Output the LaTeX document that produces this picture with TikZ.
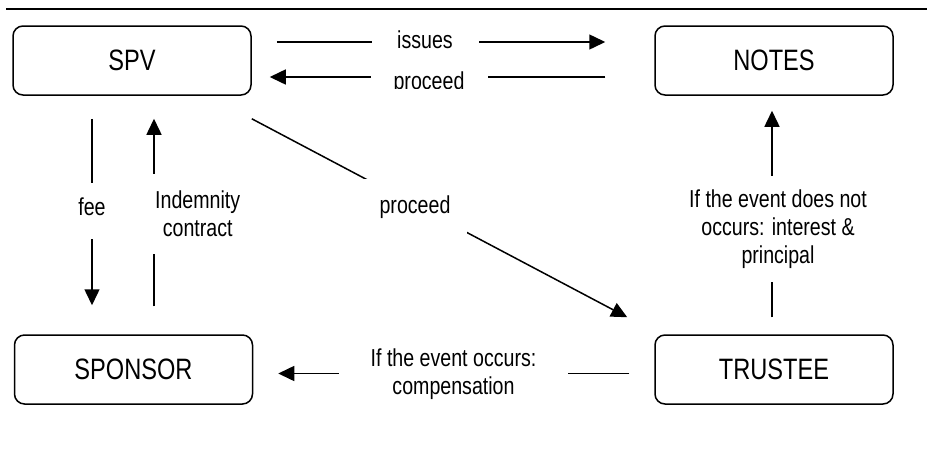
\documentclass[tikz,border=0pt]{standalone}
\usepackage{fontspec}
\setmainfont[FakeStretch=0.8]{Liberation Sans}
\usetikzlibrary{arrows.meta}

\tikzset{
  box/.style={draw, line width=1.5pt, rounded corners=10pt,
    minimum width=238pt, minimum height=69pt,
    font=\fontsize{29.5}{33}\selectfont},
  lbl/.style={fill=white, inner sep=0pt, align=center,
    font=\fontsize{24.5}{28}\selectfont},
  link/.style={line width=1.5pt},
  arr/.style={link, -{Triangle[length=16pt,width=15pt]}},
}

\begin{document}
\begin{tikzpicture}[x=1pt, y=-1pt]
  \useasboundingbox (0,0) rectangle (927,448);

  % rule across the top
  \draw[link] (6,9) -- (927,9);

  % parties
  \node[box] (spv)     at (132,60.5)    {SPV};
  \node[box] (notes)   at (774,60.5)    {NOTES};
  \node[box] (sponsor) at (133.5,369.5) {SPONSOR};
  \node[box] (trustee) at (774,369.5)   {TRUSTEE};

  % SPV <-> NOTES
  \draw[arr, shorten <=25pt, shorten >=49pt]
    ([yshift=18.5pt]spv.east) -- ([yshift=18.5pt]notes.west);
  \node[lbl, anchor=base, minimum width=107pt, minimum height=30pt] (issuesl) at (425,48) {issues};

  \draw[arr, shorten <=49pt, shorten >=18pt]
    ([yshift=-16.5pt]notes.west) -- ([yshift=-16.5pt]spv.east);
  \begin{scope}
    \clip (371,55) rectangle (488,88);
    \node[lbl, anchor=base, minimum width=117pt, minimum height=44pt] (procup) at (429,89) {proceed};
  \end{scope}

  % SPV <-> SPONSOR
  \draw[arr, shorten <=23pt, shorten >=29pt]
    ([xshift=-40pt]spv.south) -- ([xshift=-40pt]spv.south |- sponsor.north);
  \node[lbl, text depth=8pt, minimum width=30pt, minimum height=56pt] (feel) at (92,211) {fee};

  \draw[arr, shorten <=28pt, shorten >=23pt]
    ([xshift=20.5pt]sponsor.north) -- ([xshift=20.5pt]sponsor.north |- spv.south);
  \node[lbl, anchor=west, inner xsep=4pt, minimum height=80pt] (indeml) at (151,214) {Indemnity\\contract};

  % SPV -> TRUSTEE
  \draw[arr]
    ([yshift=-23pt]spv.south east) -- ([xshift=-27pt,yshift=17pt]trustee.north west);
  \node[lbl, minimum width=104pt, minimum height=56pt] (procdiag) at (415,207) {proceed};

  % TRUSTEE -> NOTES
  \draw[arr, shorten <=17pt, shorten >=15pt]
    ([xshift=-2pt]trustee.north) -- ([xshift=-2pt]trustee.north |- notes.south);
  \node[lbl, minimum height=106pt] (nooccl) at (778,229) {If the event does not\\occurs: interest \&\\principal};

  % TRUSTEE -> SPONSOR
  \draw[arr, shorten <=25pt, shorten >=25pt]
    ([yshift=-4pt]trustee.west) -- ([yshift=-4pt]sponsor.east);
  \node[lbl, minimum width=229pt] (occl) at (453.5,374) {If the event occurs:\\compensation};
\end{tikzpicture}
\end{document}
